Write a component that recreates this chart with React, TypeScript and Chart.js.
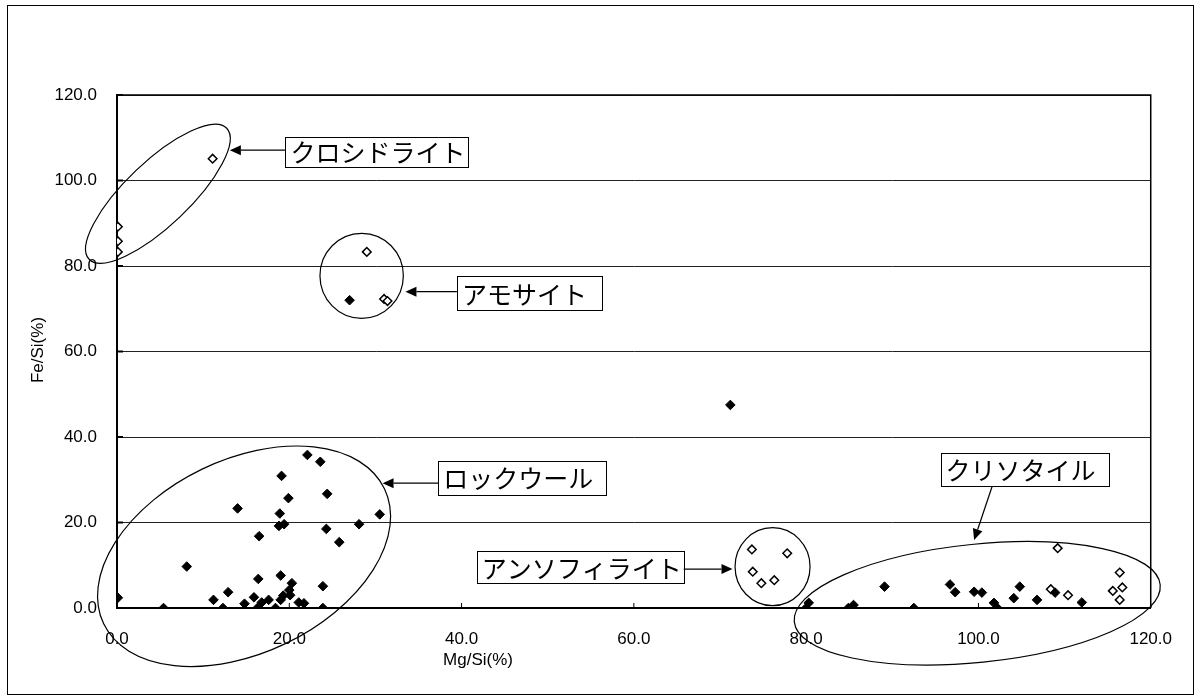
import React, { useEffect, useRef } from "react";
import { Chart, registerables } from "chart.js";

Chart.register(...registerables);

// Filled diamonds (samples)
const filledMgSi = [
  0.1, 5.4, 8.1, 11.2, 12.3, 12.9, 14.0, 14.8, 15.9, 16.3, 16.4, 16.5, 16.8, 17.6, 18.4, 18.8, 18.9, 19.0, 19.0,
  19.1, 19.3, 19.4, 19.9, 20.0, 20.1, 20.3, 21.1, 21.7, 22.1, 23.6, 23.9, 23.9, 24.3, 24.4, 25.8, 28.1, 30.5,
  27.0, 71.2,
  80.0, 80.3, 84.9, 85.5, 89.1, 92.5, 96.7, 97.3, 99.5, 100.4, 101.8, 102.2, 104.1, 104.8, 106.8, 108.9, 112.0,
];
const filledFeSi = [
  2.4, 0.0, 9.7, 1.9, 0.0, 3.7, 23.3, 1.0, 2.5, 0.0, 6.8, 16.8, 1.3, 1.9, 0.0, 19.2, 22.1, 1.9, 7.6,
  30.9, 2.9, 19.6, 25.7, 4.2, 3.0, 5.8, 1.3, 1.1, 35.8, 34.2, 5.1, 0.0, 18.5, 26.7, 15.4, 19.6, 21.9,
  72.0, 47.5,
  0.0, 1.2, 0.0, 0.7, 5.0, 0.0, 5.5, 3.7, 3.8, 3.6, 1.2, 0.0, 2.3, 5.0, 1.9, 3.6, 1.3,
];

// Hollow diamonds (reference asbestos)
const hollowMgSi = [
  0.1, 0.1, 0.1, 11.1,
  29.0, 31.0, 31.4,
  73.7, 77.8, 73.8, 74.8, 76.3,
  109.2, 108.4, 110.4, 116.4, 115.6, 116.7, 116.4,
];
const hollowFeSi = [
  89.2, 85.8, 83.3, 105.1,
  83.3, 72.3, 71.8,
  13.7, 12.8, 8.5, 5.8, 6.5,
  14.0, 4.4, 3.0, 8.3, 4.0, 4.8, 1.9,
];

const axisTicks = [0, 20, 40, 60, 80, 100, 120];
const xTitle = "Mg/Si(%)";
const yTitle = "Fe/Si(%)";

// Group annotations: ellipse centre in data units, radii in px, rotation in degrees
const groupNames = ["クロシドライト", "アモサイト", "ロックウール", "アンソフィライト", "クリソタイル"];
const ellipseCx = [4.75, 28.4, 14.75, 76.1, 99.86];
const ellipseCy = [96.9, 77.7, 12.1, 9.66, 1.1];
const ellipseRx = [95, 41.7, 155.8, 37.5, 183.9];
const ellipseRy = [32, 42.5, 96.7, 39, 59.1];
const ellipseRot = [-43.6, 0, -25.7, 0, -5.8];
// label box: top-left in data units, size in px
const boxX = [19.56, 39.46, 37.28, 41.76, 95.6];
const boxY = [110.2, 77.6, 34.4, 13.3, 36.3];
const boxW = [183, 145, 168, 207, 168];
const boxH = [30, 34, 34, 32, 33];
// arrows: from -> to, data units
const arrowX1 = [19.56, 39.46, 37.28, 65.58, 101.6];
const arrowY1 = [107.1, 74.0, 29.2, 9.1, 28.5];
const arrowX2 = [13.1, 33.48, 30.83, 71.45, 99.5];
const arrowY2 = [107.1, 74.0, 29.2, 9.1, 15.9];

const tickFont = { family: "'Liberation Sans', Arial, sans-serif", size: 17 };

const annotPlugin = {
  id: "annot",
  afterDraw(chart: any) {
    const { ctx, chartArea, scales } = chart;
    const x = scales.x;
    const y = scales.y;
    ctx.save();
    // top & right frame of plot area
    ctx.strokeStyle = "#000";
    ctx.lineWidth = 1.5;
    ctx.beginPath();
    ctx.moveTo(chartArea.left, chartArea.top);
    ctx.lineTo(chartArea.right, chartArea.top);
    ctx.lineTo(chartArea.right, chartArea.bottom);
    ctx.stroke();
    // inside tick marks
    for (const t of axisTicks) {
      const px = x.getPixelForValue(t);
      ctx.lineWidth = 1;
      ctx.beginPath();
      ctx.moveTo(px, chartArea.bottom);
      ctx.lineTo(px, chartArea.bottom - 5);
      ctx.stroke();
      const py = y.getPixelForValue(t);
      ctx.beginPath();
      ctx.lineWidth = 2;
      ctx.moveTo(chartArea.left, py);
      ctx.lineTo(chartArea.left + 6, py);
      ctx.stroke();
    }
    // ellipses
    ctx.lineWidth = 1.2;
    for (let i = 0; i < groupNames.length; i++) {
      ctx.beginPath();
      ctx.ellipse(
        x.getPixelForValue(ellipseCx[i]),
        y.getPixelForValue(ellipseCy[i]),
        ellipseRx[i],
        ellipseRy[i],
        (ellipseRot[i] * Math.PI) / 180,
        0,
        Math.PI * 2
      );
      ctx.stroke();
    }
    // arrows
    for (let i = 0; i < groupNames.length; i++) {
      const x1 = x.getPixelForValue(arrowX1[i]);
      const y1 = y.getPixelForValue(arrowY1[i]);
      const x2 = x.getPixelForValue(arrowX2[i]);
      const y2 = y.getPixelForValue(arrowY2[i]);
      const ang = Math.atan2(y2 - y1, x2 - x1);
      const hl = 11;
      const hw = 5;
      ctx.lineWidth = 1.3;
      ctx.beginPath();
      ctx.moveTo(x1, y1);
      ctx.lineTo(x2 - Math.cos(ang) * hl, y2 - Math.sin(ang) * hl);
      ctx.stroke();
      ctx.beginPath();
      ctx.moveTo(x2, y2);
      ctx.lineTo(x2 - Math.cos(ang) * hl - Math.sin(ang) * hw, y2 - Math.sin(ang) * hl + Math.cos(ang) * hw);
      ctx.lineTo(x2 - Math.cos(ang) * hl + Math.sin(ang) * hw, y2 - Math.sin(ang) * hl - Math.cos(ang) * hw);
      ctx.closePath();
      ctx.fillStyle = "#000";
      ctx.fill();
    }
    // label boxes
    for (let i = 0; i < groupNames.length; i++) {
      const bx = x.getPixelForValue(boxX[i]);
      const by = y.getPixelForValue(boxY[i]);
      ctx.fillStyle = "#fff";
      ctx.fillRect(bx, by, boxW[i], boxH[i]);
      ctx.lineWidth = 1;
      ctx.strokeStyle = "#000";
      ctx.strokeRect(Math.round(bx) + 0.5, Math.round(by) + 0.5, boxW[i], boxH[i]);
      ctx.fillStyle = "#000";
      ctx.font = "25px 'Noto Sans CJK JP', sans-serif";
      ctx.textAlign = "left";
      ctx.textBaseline = "middle";
      ctx.fillText(groupNames[i], bx + 5, by + boxH[i] / 2 + 1);
    }
    // axis titles
    ctx.fillStyle = "#000";
    ctx.font = "17px 'Liberation Sans', Arial, sans-serif";
    ctx.textAlign = "center";
    ctx.textBaseline = "middle";
    ctx.fillText(xTitle, chartArea.left + 361, chartArea.bottom + 52);
    ctx.save();
    ctx.translate(chartArea.left - 79, chartArea.top + 255);
    ctx.rotate(-Math.PI / 2);
    ctx.fillText(yTitle, 0, 0);
    ctx.restore();
    ctx.restore();
  },
};

export default function App() {
  const ref = useRef<HTMLCanvasElement>(null);
  useEffect(() => {
    if (!ref.current) return;
    const filled = filledMgSi.map((v, i) => ({ x: v, y: filledFeSi[i] }));
    const hollow = hollowMgSi.map((v, i) => ({ x: v, y: hollowFeSi[i] }));
    const chart = new Chart(ref.current, {
      type: "scatter",
      data: {
        datasets: [
          {
            label: "samples",
            data: filled,
            pointStyle: "rectRot",
            pointRadius: 4.8,
            backgroundColor: "#000",
            borderColor: "#000",
            borderWidth: 1,
          },
          {
            label: "standards",
            data: hollow,
            pointStyle: "rectRot",
            pointRadius: 4.3,
            backgroundColor: "#fff",
            borderColor: "#000",
            borderWidth: 1.5,
          },
        ],
      },
      options: {
        responsive: false,
        animation: false,
        events: [],
        layout: { padding: { top: 89, right: 33, left: 0, bottom: 0 } },
        plugins: { legend: { display: false }, tooltip: { enabled: false } },
        scales: {
          x: {
            type: "linear",
            min: 0,
            max: 120,
            afterFit: (s: any) => {
              s.height = 86;
            },
            afterBuildTicks: (s: any) => {
              s.ticks = axisTicks.map((v) => ({ value: v }));
            },
            ticks: {
              color: "#000",
              font: tickFont,
              padding: 21,
              maxRotation: 0,
              callback: (v: any) => Number(v).toFixed(1),
            },
            grid: { display: false, drawTicks: false },
            border: { display: true, color: "#000", width: 2 },
          },
          y: {
            type: "linear",
            min: 0,
            max: 120,
            afterFit: (s: any) => {
              s.width = 109;
            },
            afterBuildTicks: (s: any) => {
              s.ticks = axisTicks.map((v) => ({ value: v }));
            },
            ticks: {
              color: "#000",
              font: tickFont,
              padding: 20,
              callback: (v: any) => Number(v).toFixed(1),
            },
            grid: { display: true, color: "#222", lineWidth: 1, drawTicks: false },
            border: { display: true, color: "#000", width: 2 },
          },
        },
      },
      plugins: [annotPlugin],
    });
    return () => chart.destroy();
  }, []);
  return (
    <div
      style={{
        position: "absolute",
        left: 7,
        top: 5,
        width: 1187,
        height: 690,
        border: "1px solid #000",
        boxSizing: "border-box",
        background: "#fff",
      }}
    >
      <canvas ref={ref} width={1185} height={688} style={{ display: "block", width: 1185, height: 688 }} />
    </div>
  );
}
